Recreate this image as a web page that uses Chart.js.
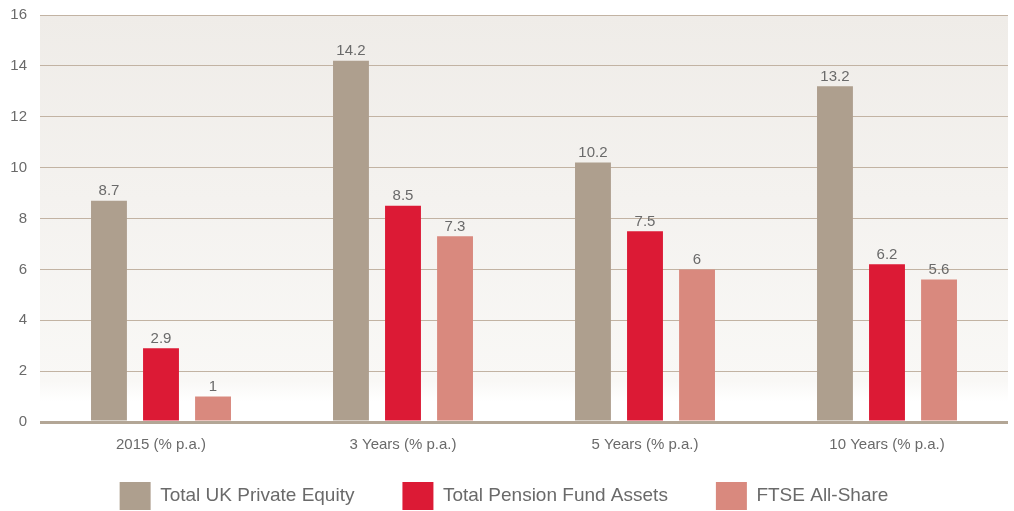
<!DOCTYPE html>
<html>
<head>
<meta charset="utf-8">
<script src="https://cdn.jsdelivr.net/npm/chart.js@4/dist/chart.umd.min.js"></script>
<style>
  html, body { margin: 0; padding: 0; background: #ffffff; }
  #wrap { width: 1014px; height: 511px; }
</style>
</head>
<body>
<div id="wrap"><canvas id="c" width="1014" height="511"></canvas></div>
<script>
const categories = ["2015 (% p.a.)", "3 Years (% p.a.)", "5 Years (% p.a.)", "10 Years (% p.a.)"];
const seriesNames = ["Total UK Private Equity", "Total Pension Fund Assets", "FTSE All-Share"];
const privateEquity = [8.7, 14.2, 10.2, 13.2];
const pensionFund = [2.9, 8.5, 7.5, 6.2];
const ftseAllShare = [1, 7.3, 6, 5.6];
const yTicks = [0, 2, 4, 6, 8, 10, 12, 14, 16];

const colors = ["#ae9f8e", "#dc1a35", "#d9897e"];
const FONT = "'Liberation Sans', Arial, sans-serif";

const bgPlugin = {
  id: 'bg',
  beforeDraw(chart) {
    const {ctx, chartArea: a} = chart;
    const g = ctx.createLinearGradient(0, a.top, 0, a.bottom);
    g.addColorStop(0, '#efece8');
    g.addColorStop(0.9, '#f9f8f6');
    g.addColorStop(0.95, '#ffffff');
    g.addColorStop(1, '#ffffff');
    ctx.save();
    ctx.fillStyle = g;
    ctx.fillRect(a.left, a.top, a.right - a.left, a.bottom - a.top);
    ctx.restore();
  }
};

const valuePlugin = {
  id: 'values',
  afterDatasetsDraw(chart) {
    const {ctx} = chart;
    ctx.save();
    ctx.font = "15px " + FONT;
    ctx.fillStyle = '#6a6a6a';
    ctx.textAlign = 'center';
    ctx.textBaseline = 'bottom';
    chart.data.datasets.forEach((ds, i) => {
      chart.getDatasetMeta(i).data.forEach((bar, j) => {
        ctx.fillText(String(ds.data[j]), bar.x, bar.y - 2);
      });
    });
    ctx.restore();
  }
};

new Chart(document.getElementById('c'), {
  type: 'bar',
  data: {
    labels: categories,
    datasets: [
      { label: seriesNames[0], data: privateEquity, backgroundColor: colors[0] },
      { label: seriesNames[1], data: pensionFund, backgroundColor: colors[1] },
      { label: seriesNames[2], data: ftseAllShare, backgroundColor: colors[2] }
    ]
  },
  options: {
    responsive: false,
    animation: false,
    devicePixelRatio: 1,
    layout: { padding: { top: 15, right: 6, left: 0, bottom: -9 } },
    datasets: { bar: { categoryPercentage: 0.645, barPercentage: 0.69 } },
    scales: {
      x: {
        afterFit(scale) { scale.height = 50; },
        grid: { display: false },
        border: { display: false },
        ticks: { color: '#6a6a6a', font: { family: FONT, size: 15 }, padding: 6 }
      },
      y: {
        min: 0, max: 16,
        afterBuildTicks(scale) { scale.ticks = yTicks.map(v => ({ value: v })); },
        afterFit(scale) { scale.width = 40; scale.paddingTop = 0; scale.paddingBottom = 0; },
        border: { display: false },
        grid: {
          color: ctx => ctx.tick && ctx.tick.value === 0 ? '#b3a696' : '#c2b3a3',
          lineWidth: ctx => ctx.tick && ctx.tick.value === 0 ? 3 : 1,
          drawTicks: false
        },
        ticks: { color: '#6a6a6a', font: { family: FONT, size: 15 }, padding: 13 }
      }
    },
    plugins: {
      legend: {
        position: 'bottom',
        labels: {
          boxWidth: 31, boxHeight: 28,
          padding: 10,
          color: '#6a6a6a',
          font: { family: FONT, size: 19 },
          generateLabels(chart) {
            const items = Chart.defaults.plugins.legend.labels.generateLabels(chart);
            items.forEach((it, i) => {
              if (i < items.length - 1) it.text = it.text + '\u2003\u2003';
            });
            return items;
          }
        }
      },
      tooltip: { enabled: false }
    }
  },
  plugins: [bgPlugin, valuePlugin]
});
</script>
</body>
</html>
